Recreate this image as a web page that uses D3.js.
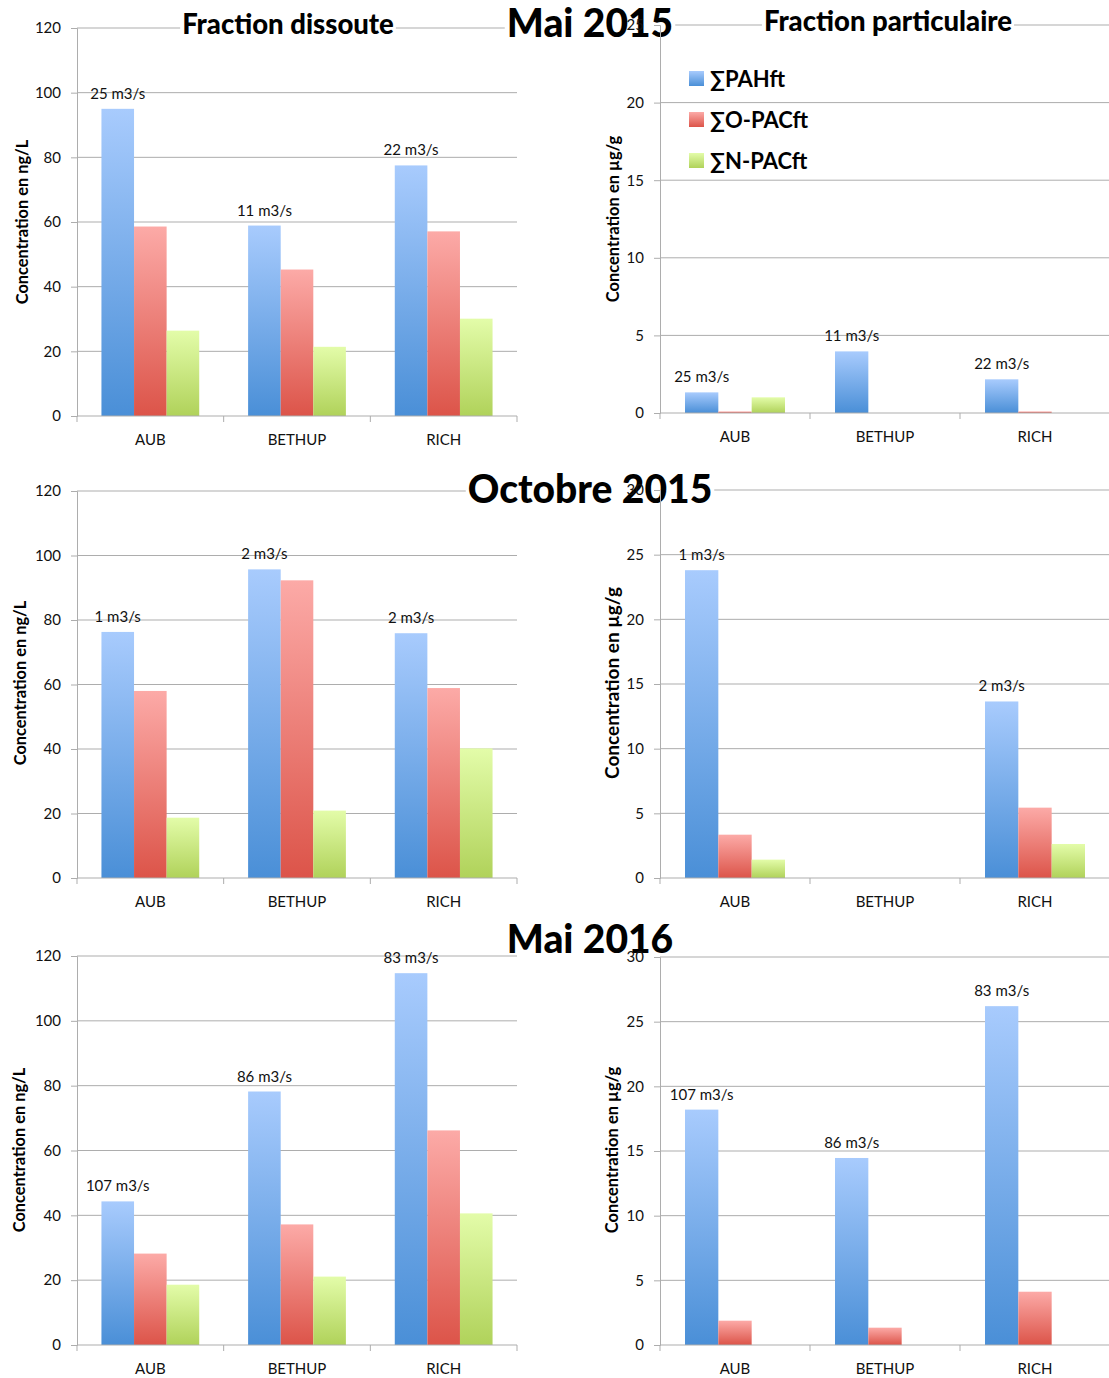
<!DOCTYPE html>
<html>
<head>
<meta charset="utf-8">
<script src="https://cdn.jsdelivr.net/npm/d3@7"></script>
<style>
  body { margin: 0; background: #fff; }
  svg { display: block; font-family: Lato, "Open Sans", sans-serif; }
</style>
</head>
<body>
<script>
// sites and series
const categories = ["AUB", "BETHUP", "RICH"];
const seriesNames = ["∑PAHft", "∑O-PACft", "∑N-PACft"];

// one row per series (PAH, O-PAC, N-PAC), one value per site (AUB, BETHUP, RICH)
// dissolved fraction, ng/L
const dissousMai2015 = [[95.0, 58.9, 77.5], [58.6, 45.3, 57.1], [26.4, 21.4, 30.1]];
const dissousOct2015 = [[76.3, 95.7, 75.9], [58.0, 92.3, 58.9], [18.7, 20.9, 40.2]];
const dissousMai2016 = [[44.3, 78.2, 114.7], [28.2, 37.2, 66.2], [18.6, 21.1, 40.6]];
// particulate fraction, µg/g
const partMai2015 = [[1.33, 3.97, 2.17], [0.1, 0, 0.1], [1.01, 0, 0]];
const partOct2015 = [[23.8, null, 13.65], [3.35, null, 5.44], [1.42, null, 2.63]];
const partMai2016 = [[18.2, 14.46, 26.2], [1.88, 1.34, 4.12], [null, null, null]];

// river flow labels
const debitsMai2015 = ["25 m3/s", "11 m3/s", "22 m3/s"];
const debitsOct2015 = ["1 m3/s", "2 m3/s", "2 m3/s"];
const debitsMai2016 = ["107 m3/s", "86 m3/s", "83 m3/s"];

// tick values
const ticksDissous = [0, 20, 40, 60, 80, 100, 120];
const ticksPart25 = [0, 5, 10, 15, 20, 25];
const ticksPart30 = [0, 5, 10, 15, 20, 25, 30];

const width = 1109, height = 1378;
const gridColor = "#adadad";
const barColors = [["#a8cbfd", "#4a8fd7"], ["#fcaaa7", "#dc5449"], ["#e3fca9", "#b0d25a"]];

const svg = d3.select("body").append("svg")
    .attr("width", width)
    .attr("height", height);

// vertical gradients like the Excel bars
const defs = svg.append("defs");
barColors.forEach(function(c, i) {
    const grad = defs.append("linearGradient")
        .attr("id", "grad" + i)
        .attr("x1", 0).attr("y1", 0).attr("x2", 0).attr("y2", 1);
    grad.append("stop").attr("offset", "0%").attr("stop-color", c[0]);
    grad.append("stop").attr("offset", "100%").attr("stop-color", c[1]);
});

function drawPanel(p) {
    const g = svg.append("g");

    const x = d3.scaleBand().domain(categories).range([p.x0, p.x1]);
    const xs = d3.scaleBand().domain([0, 1, 2]).range([0, x.bandwidth()])
        .paddingInner(0).paddingOuter(0.75);
    const y = d3.scaleLinear().domain([0, p.max]).range([p.yBottom, p.yTop]);

    // gridlines
    g.selectAll(".grid")
        .data(p.ticks.filter(function(t) { return t > 0; }))
        .enter().append("line")
          .attr("x1", p.x0).attr("x2", p.x1)
          .attr("y1", function(d) { return y(d); })
          .attr("y2", function(d) { return y(d); })
          .attr("stroke", gridColor);

    // bars
    p.values.forEach(function(row, si) {
        g.selectAll(".bar" + si)
            .data(row.map(function(v, ci) { return { v: v, c: categories[ci] }; })
                     .filter(function(d) { return d.v != null && d.v > 0; }))
            .enter().append("rect")
              .attr("x", function(d) { return x(d.c) + xs(si); })
              .attr("width", xs.bandwidth())
              .attr("y", function(d) { return y(d.v); })
              .attr("height", function(d) { return y(0) - y(d.v); })
              .attr("fill", "url(#grad" + si + ")");
    });

    // flow labels above the PAH bar
    g.selectAll(".flow")
        .data(categories.map(function(c, ci) {
            return { c: c, v: p.values[0][ci], label: p.labels[ci] };
        }).filter(function(d) { return d.v != null; }))
        .enter().append("text")
          .attr("x", function(d) { return x(d.c) + xs(0) + xs.bandwidth() / 2; })
          .attr("y", function(d) { return y(d.v) - 10; })
          .attr("text-anchor", "middle")
          .attr("font-size", 15)
          .attr("fill", "#111")
          .text(function(d) { return d.label; });

    // y axis
    const yAxis = g.append("g")
        .attr("transform", "translate(" + p.x0 + ",0)")
        .call(d3.axisLeft(y).tickValues(p.ticks).tickSize(6).tickPadding(10));
    yAxis.selectAll("path, line").attr("stroke", gridColor);
    yAxis.selectAll("text").attr("font-size", 15).attr("fill", "#111")
        .attr("font-family", "Lato, sans-serif");

    // x axis with ticks on category boundaries
    g.append("line")
        .attr("x1", p.x0).attr("x2", p.x1)
        .attr("y1", y(0)).attr("y2", y(0))
        .attr("stroke", gridColor);
    g.selectAll(".xtick")
        .data(categories.map(function(c) { return x(c); }).concat([p.x1]))
        .enter().append("line")
          .attr("x1", function(d) { return d; }).attr("x2", function(d) { return d; })
          .attr("y1", y(0)).attr("y2", y(0) + 6)
          .attr("stroke", gridColor);
    g.selectAll(".xlabel")
        .data(categories)
        .enter().append("text")
          .attr("x", function(d) { return x(d) + x.bandwidth() / 2; })
          .attr("y", y(0) + 29)
          .attr("text-anchor", "middle")
          .attr("font-size", 15)
          .attr("fill", "#111")
          .text(function(d) { return d; });

    // y axis title
    g.append("text")
        .attr("transform", "translate(" + p.titleX + "," + p.titleY + ") rotate(-90)")
        .attr("text-anchor", "middle")
        .attr("dy", "0.35em")
        .attr("font-size", p.titleSize)
        .attr("font-weight", "bold")
        .text(p.yTitle);

    return { g: g, yAxis: yAxis };
}

function titleText(txt, cx, baseline, size) {
    const t = svg.append("text")
        .attr("x", cx).attr("y", baseline)
        .attr("text-anchor", "middle")
        .attr("font-size", size)
        .attr("font-weight", 900)
        .text(txt);
    const b = t.node().getBBox();
    svg.insert("rect", function() { return t.node(); })
        .attr("x", b.x - 2).attr("y", b.y + b.height * 0.15)
        .attr("width", b.width + 4).attr("height", b.height * 0.7)
        .attr("fill", "#fff");
    return t;
}

const rows = [
    { top: 28, bottom: 416, rTop: 25, rBottom: 413, diss: dissousMai2015, part: partMai2015,
      labels: debitsMai2015, rMax: 25, rTicks: ticksPart25, title: "Mai 2015", titleY: 37,
      lx: 22, ly: 222, rx: 613, ry: 219, rSize: 16.5 },
    { top: 491, bottom: 878, rTop: 490, rBottom: 878, diss: dissousOct2015, part: partOct2015,
      labels: debitsOct2015, rMax: 30, rTicks: ticksPart30, title: "Octobre 2015", titleY: 503,
      lx: 20, ly: 683, rx: 612, ry: 683, rSize: 19 },
    { top: 956, bottom: 1345, rTop: 957, rBottom: 1345, diss: dissousMai2016, part: partMai2016,
      labels: debitsMai2016, rMax: 30, rTicks: ticksPart30, title: "Mai 2016", titleY: 953,
      lx: 19, ly: 1150, rx: 612, ry: 1150, rSize: 16.5 }
];

rows.forEach(function(r, i) {
    drawPanel({ x0: 77, x1: 517, yTop: r.top, yBottom: r.bottom, max: 120,
        ticks: ticksDissous, values: r.diss, labels: r.labels,
        yTitle: "Concentration en ng/L", titleX: r.lx, titleY: r.ly, titleSize: 16.4 });
    const right = drawPanel({ x0: 660, x1: 1110, yTop: r.rTop, yBottom: r.rBottom, max: r.rMax,
        ticks: r.rTicks, values: r.part, labels: r.labels,
        yTitle: "Concentration en µg/g", titleX: r.rx, titleY: r.ry, titleSize: r.rSize });
    if (i === 0) {
        titleText("Fraction dissoute", 288, 34, 27.5);
        titleText("Fraction particulaire", 888, 31, 27.5);
    }
    titleText(r.title, 590, r.titleY, 39);
    // the right axis labels sit on top of the row title, as in the original
    svg.node().appendChild(right.yAxis.node());
});

// legend (top right panel)
const legend = svg.append("g");
seriesNames.forEach(function(name, i) {
    legend.append("rect")
        .attr("x", 689).attr("y", 71 + i * 41)
        .attr("width", 15).attr("height", 15)
        .attr("fill", "url(#grad" + i + ")");
    legend.append("text")
        .attr("x", 710).attr("y", 87 + i * 41)
        .attr("font-size", 22)
        .attr("font-weight", "bold")
        .text(name);
});
</script>
</body>
</html>
